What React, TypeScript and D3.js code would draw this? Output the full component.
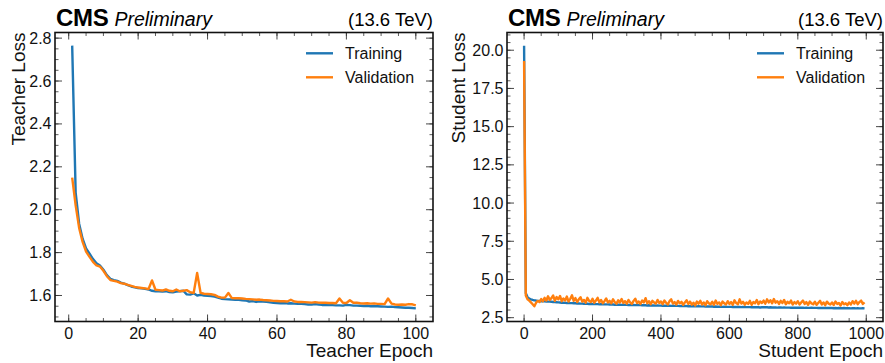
import React from "react";
import * as d3 from "d3";

// ---------------- DATA ----------------
const teacherTraining = [
  2.765, 2.08, 1.935, 1.865, 1.82, 1.795, 1.77, 1.75, 1.74, 1.72,
  1.695, 1.678, 1.672, 1.668, 1.66, 1.655, 1.648, 1.642, 1.638, 1.635,
  1.633, 1.631, 1.628, 1.622, 1.62, 1.62, 1.618, 1.62, 1.616, 1.615,
  1.618, 1.62, 1.622, 1.605, 1.604, 1.61, 1.6, 1.603, 1.6, 1.598,
  1.597, 1.595, 1.59, 1.585, 1.583, 1.582, 1.581, 1.58, 1.58, 1.578,
  1.577, 1.572, 1.574, 1.57, 1.573, 1.572, 1.57, 1.568, 1.566, 1.565,
  1.564, 1.565, 1.563, 1.564, 1.562, 1.561, 1.561, 1.56, 1.558, 1.558,
  1.56, 1.558, 1.556, 1.557, 1.555, 1.555, 1.554, 1.554, 1.553, 1.556,
  1.555, 1.553, 1.553, 1.552, 1.551, 1.552, 1.55, 1.551, 1.55, 1.549,
  1.548, 1.547, 1.548, 1.546, 1.545, 1.544, 1.543, 1.543, 1.542, 1.54,
];

const teacherValidation = [
  2.15, 2.02, 1.915, 1.85, 1.805, 1.78, 1.757, 1.74, 1.735, 1.715,
  1.69, 1.672, 1.668, 1.665, 1.658, 1.655, 1.65, 1.645, 1.64, 1.637,
  1.635, 1.633, 1.63, 1.67, 1.627, 1.625, 1.623, 1.628, 1.622, 1.62,
  1.628, 1.62, 1.622, 1.625, 1.615, 1.612, 1.705, 1.612, 1.608, 1.607,
  1.606, 1.603, 1.595, 1.59, 1.59, 1.612, 1.588, 1.587, 1.587, 1.586,
  1.584, 1.583, 1.582, 1.58, 1.581, 1.579, 1.578, 1.577, 1.575, 1.574,
  1.573, 1.573, 1.572, 1.58, 1.572, 1.57, 1.57, 1.569, 1.568, 1.567,
  1.569, 1.567, 1.566, 1.566, 1.565, 1.565, 1.564, 1.586, 1.566, 1.565,
  1.578, 1.566, 1.567, 1.564, 1.563, 1.564, 1.562, 1.563, 1.561, 1.561,
  1.56, 1.586, 1.562, 1.558, 1.557, 1.558, 1.557, 1.56, 1.559, 1.554,
];

// student values sampled every 5 epochs (0, 5, 10, ... 995)
const studentTraining = [
  20.3, 4.1, 3.85, 3.75, 3.7, 3.66, 3.63, 3.62, 3.6, 3.59,
  3.58, 3.57, 3.57, 3.56, 3.55, 3.55, 3.54, 3.53, 3.52, 3.51,
  3.5, 3.49, 3.48, 3.48, 3.47, 3.46, 3.46, 3.45, 3.45, 3.44,
  3.44, 3.43, 3.43, 3.42, 3.42, 3.41, 3.41, 3.41, 3.4, 3.4,
  3.4, 3.39, 3.39, 3.39, 3.38, 3.38, 3.38, 3.37, 3.37, 3.37,
  3.36, 3.37, 3.36, 3.35, 3.36, 3.35, 3.35, 3.34, 3.35, 3.34,
  3.34, 3.33, 3.34, 3.33, 3.33, 3.32, 3.33, 3.32, 3.32, 3.31,
  3.31, 3.31, 3.3, 3.31, 3.3, 3.3, 3.3, 3.29, 3.3, 3.29,
  3.29, 3.28, 3.29, 3.28, 3.28, 3.28, 3.27, 3.28, 3.27, 3.27,
  3.27, 3.26, 3.27, 3.26, 3.26, 3.26, 3.25, 3.26, 3.25, 3.25,
  3.25, 3.24, 3.25, 3.24, 3.24, 3.24, 3.23, 3.24, 3.23, 3.23,
  3.23, 3.22, 3.23, 3.22, 3.22, 3.22, 3.21, 3.22, 3.21, 3.21,
  3.21, 3.21, 3.2, 3.21, 3.2, 3.2, 3.2, 3.19, 3.2, 3.19,
  3.19, 3.19, 3.19, 3.18, 3.19, 3.18, 3.18, 3.18, 3.17, 3.18,
  3.18, 3.19, 3.18, 3.17, 3.18, 3.17, 3.17, 3.17, 3.16, 3.17,
  3.17, 3.16, 3.17, 3.16, 3.16, 3.16, 3.15, 3.16, 3.15, 3.15,
  3.16, 3.15, 3.15, 3.15, 3.14, 3.15, 3.14, 3.14, 3.15, 3.14,
  3.14, 3.14, 3.13, 3.14, 3.13, 3.14, 3.13, 3.13, 3.13, 3.13,
  3.13, 3.12, 3.13, 3.12, 3.13, 3.12, 3.12, 3.13, 3.12, 3.12,
  3.12, 3.11, 3.12, 3.12, 3.11, 3.12, 3.11, 3.11, 3.12, 3.11,
];

const studentValidation = [
  19.3, 3.95, 3.7, 3.62, 3.5, 3.38, 3.25, 3.48, 3.6, 3.52,
  3.72, 3.58, 3.8, 3.62, 3.9, 3.66, 3.78, 3.95, 3.6, 3.85,
  3.7, 3.92, 3.58, 3.76, 3.62, 3.88, 3.55, 3.74, 3.96, 3.6,
  3.78, 3.52, 3.7, 3.84, 3.55, 3.66, 3.48, 3.8, 3.6, 3.52,
  3.74, 3.48, 3.62, 3.8, 3.5, 3.66, 3.45, 3.58, 3.76, 3.5,
  3.6, 3.44, 3.7, 3.52, 3.42, 3.64, 3.5, 3.72, 3.46, 3.58,
  3.42, 3.66, 3.5, 3.4, 3.6, 3.74, 3.46, 3.56, 3.4, 3.62,
  3.5, 3.78, 3.44, 3.58, 3.38, 3.6, 3.5, 3.42, 3.66, 3.46,
  3.56, 3.38, 3.62, 3.48, 3.36, 3.58, 3.7, 3.42, 3.52, 3.36,
  3.6, 3.44, 3.54, 3.34, 3.5, 3.64, 3.4, 3.55, 3.35, 3.48,
  3.3, 3.56, 3.42, 3.6, 3.36, 3.5, 3.32, 3.58, 3.44, 3.38,
  3.54, 3.34, 3.62, 3.4, 3.5, 3.32, 3.56, 3.44, 3.36, 3.58,
  3.4, 3.52, 3.34, 3.64, 3.46, 3.38, 3.7, 3.42, 3.54, 3.35,
  3.5, 3.4, 3.6, 3.34, 3.52, 3.44, 3.66, 3.38, 3.56, 3.46,
  3.62, 3.42, 3.7, 3.5, 3.64, 3.44, 3.72, 3.48, 3.58, 3.4,
  3.6, 3.46, 3.66, 3.38, 3.54, 3.44, 3.62, 3.36, 3.52, 3.42,
  3.58, 3.36, 3.5, 3.62, 3.4, 3.52, 3.34, 3.56, 3.44, 3.38,
  3.54, 3.34, 3.48, 3.6, 3.36, 3.5, 3.32, 3.55, 3.42, 3.36,
  3.5, 3.33, 3.56, 3.4, 3.46, 3.3, 3.52, 3.38, 3.44, 3.32,
  3.5, 3.36, 3.58, 3.42, 3.6, 3.38, 3.52, 3.62, 3.4, 3.5,
];

const teacherEpochs = teacherTraining.map((_, i) => i + 1);
const studentEpochs = studentTraining.map((_, i) => i * 5);
const studentEpochExtent = [0, 999];

const seriesNames = ["Training", "Validation"];
const seriesColors = ["#1f77b4", "#ff7f0e"];

const teacherXMajor = [0, 20, 40, 60, 80, 100];
const teacherYMajor = [1.6, 1.8, 2.0, 2.2, 2.4, 2.6, 2.8];
const studentXMajor = [0, 200, 400, 600, 800, 1000];
const studentYMajor = [2.5, 5.0, 7.5, 10.0, 12.5, 15.0, 17.5, 20.0];

// ---------------- LAYOUT ----------------
const W = 885;
const H = 363;
const TOP = 32.5;
const BOTTOM = 321.5;
const FONT = "'Liberation Sans', Arial, Helvetica, sans-serif";

function pad(ext: number[]) {
  const m = (ext[1] - ext[0]) * 0.05;
  return [ext[0] - m, ext[1] + m];
}

type PanelProps = {
  left: number;
  right: number;
  xs: number[];
  xExtent: number[];
  series: number[][];
  xMajor: number[];
  xMinorStep: number;
  yMajor: number[];
  yMinorStep: number;
  yFmt: string;
  xLabel: string;
  yLabel: string;
  yLabelX: number;
  legendX: number;
};

function Panel(p: PanelProps) {
  const all = p.series.flat();
  const x = d3.scaleLinear().domain(pad(p.xExtent)).range([p.left, p.right]);
  const y = d3.scaleLinear().domain(pad(d3.extent(all) as number[])).range([BOTTOM, TOP]);
  const [xd0, xd1] = x.domain();
  const [yd0, yd1] = y.domain();
  const xMinor = d3
    .range(Math.ceil(xd0 / p.xMinorStep), Math.floor(xd1 / p.xMinorStep) + 1)
    .map((k) => k * p.xMinorStep);
  const yMinor = d3
    .range(Math.ceil(yd0 / p.yMinorStep - 1e-9), Math.floor(yd1 / p.yMinorStep + 1e-9) + 1)
    .map((k) => k * p.yMinorStep);
  const fmt = d3.format(p.yFmt);
  const line = d3
    .line<number>()
    .x((_, i) => x(p.xs[i]))
    .y((d) => y(d));
  const tickColor = "#333";
  const MAJ = 7;
  const MIN = 3.5;
  return (
    <g>
      {/* data */}
      {p.series.map((s, k) => (
        <path
          key={k}
          d={line(s) || ""}
          fill="none"
          stroke={seriesColors[k]}
          strokeWidth={2.4}
          strokeLinejoin="round"
        />
      ))}
      {/* x ticks */}
      {xMinor.map((v) => (
        <g key={"xm" + v}>
          <line x1={x(v)} x2={x(v)} y1={BOTTOM} y2={BOTTOM - MIN} stroke={tickColor} strokeWidth={0.8} />
          <line x1={x(v)} x2={x(v)} y1={TOP} y2={TOP + MIN} stroke={tickColor} strokeWidth={0.8} />
        </g>
      ))}
      {p.xMajor.map((v) => (
        <g key={"xM" + v}>
          <line x1={x(v)} x2={x(v)} y1={BOTTOM} y2={BOTTOM - MAJ} stroke={tickColor} strokeWidth={0.9} />
          <line x1={x(v)} x2={x(v)} y1={TOP} y2={TOP + MAJ} stroke={tickColor} strokeWidth={0.9} />
          <text x={x(v)} y={BOTTOM + 17} textAnchor="middle" fontSize={16} fontFamily={FONT} fill="#111">
            {v}
          </text>
        </g>
      ))}
      {/* y ticks */}
      {yMinor.map((v) => (
        <g key={"ym" + v}>
          <line x1={p.left} x2={p.left + MIN} y1={y(v)} y2={y(v)} stroke={tickColor} strokeWidth={0.8} />
          <line x1={p.right} x2={p.right - MIN} y1={y(v)} y2={y(v)} stroke={tickColor} strokeWidth={0.8} />
        </g>
      ))}
      {p.yMajor.map((v) => (
        <g key={"yM" + v}>
          <line x1={p.left} x2={p.left + MAJ} y1={y(v)} y2={y(v)} stroke={tickColor} strokeWidth={0.9} />
          <line x1={p.right} x2={p.right - MAJ} y1={y(v)} y2={y(v)} stroke={tickColor} strokeWidth={0.9} />
          <text x={p.left - 3.5} y={y(v) + 5.5} textAnchor="end" fontSize={16} fontFamily={FONT} fill="#111">
            {fmt(v)}
          </text>
        </g>
      ))}
      {/* frame */}
      <rect
        x={p.left}
        y={TOP}
        width={p.right - p.left}
        height={BOTTOM - TOP}
        fill="none"
        stroke="#111"
        strokeWidth={1.6}
      />
      {/* header */}
      <text x={p.left + 1} y={25.7} fontSize={24} fontWeight="bold" fontFamily={FONT} fill="#000" letterSpacing={-0.3}>
        CMS
        <tspan dx={6} fontSize={19.5} fontWeight="normal" fontStyle="italic" letterSpacing={0}>
          Preliminary
        </tspan>
      </text>
      <text x={p.right} y={26} textAnchor="end" fontSize={18.5} fontFamily={FONT} fill="#000">
        (13.6 TeV)
      </text>
      {/* axis labels */}
      <text x={p.right} y={357} textAnchor="end" fontSize={19} fontFamily={FONT} fill="#111">
        {p.xLabel}
      </text>
      <text
        transform={`translate(${p.yLabelX},${TOP}) rotate(-90)`}
        textAnchor="end"
        fontSize={19}
        fontFamily={FONT}
        fill="#111"
      >
        {p.yLabel}
      </text>
      {/* legend */}
      {seriesNames.map((name, k) => (
        <g key={name}>
          <line
            x1={p.legendX}
            x2={p.legendX + 27}
            y1={53.3 + k * 24}
            y2={53.3 + k * 24}
            stroke={seriesColors[k]}
            strokeWidth={2.4}
          />
          <text x={p.legendX + 39} y={59 + k * 24} fontSize={16} fontFamily={FONT} fill="#111">
            {name}
          </text>
        </g>
      ))}
    </g>
  );
}

export default function App() {
  return (
    <svg
      width={W}
      height={H}
      viewBox={`0 0 ${W} ${H}`}
      style={{ position: "absolute", left: 0, top: 0, background: "#fff" }}
    >
      <rect x={0} y={0} width={W} height={H} fill="#fff" />
      <Panel
        left={55}
        right={433}
        xs={teacherEpochs}
        xExtent={[teacherEpochs[0], teacherEpochs[teacherEpochs.length - 1]]}
        series={[teacherTraining, teacherValidation]}
        xMajor={teacherXMajor}
        xMinorStep={5}
        yMajor={teacherYMajor}
        yMinorStep={0.05}
        yFmt=".1f"
        xLabel="Teacher Epoch"
        yLabel="Teacher Loss"
        yLabelX={25}
        legendX={306}
      />
      <Panel
        left={507}
        right={883}
        xs={studentEpochs}
        xExtent={studentEpochExtent}
        series={[studentTraining, studentValidation]}
        xMajor={studentXMajor}
        xMinorStep={50}
        yMajor={studentYMajor}
        yMinorStep={0.5}
        yFmt=".1f"
        xLabel="Student Epoch"
        yLabel="Student Loss"
        yLabelX={465}
        legendX={757}
      />
    </svg>
  );
}
